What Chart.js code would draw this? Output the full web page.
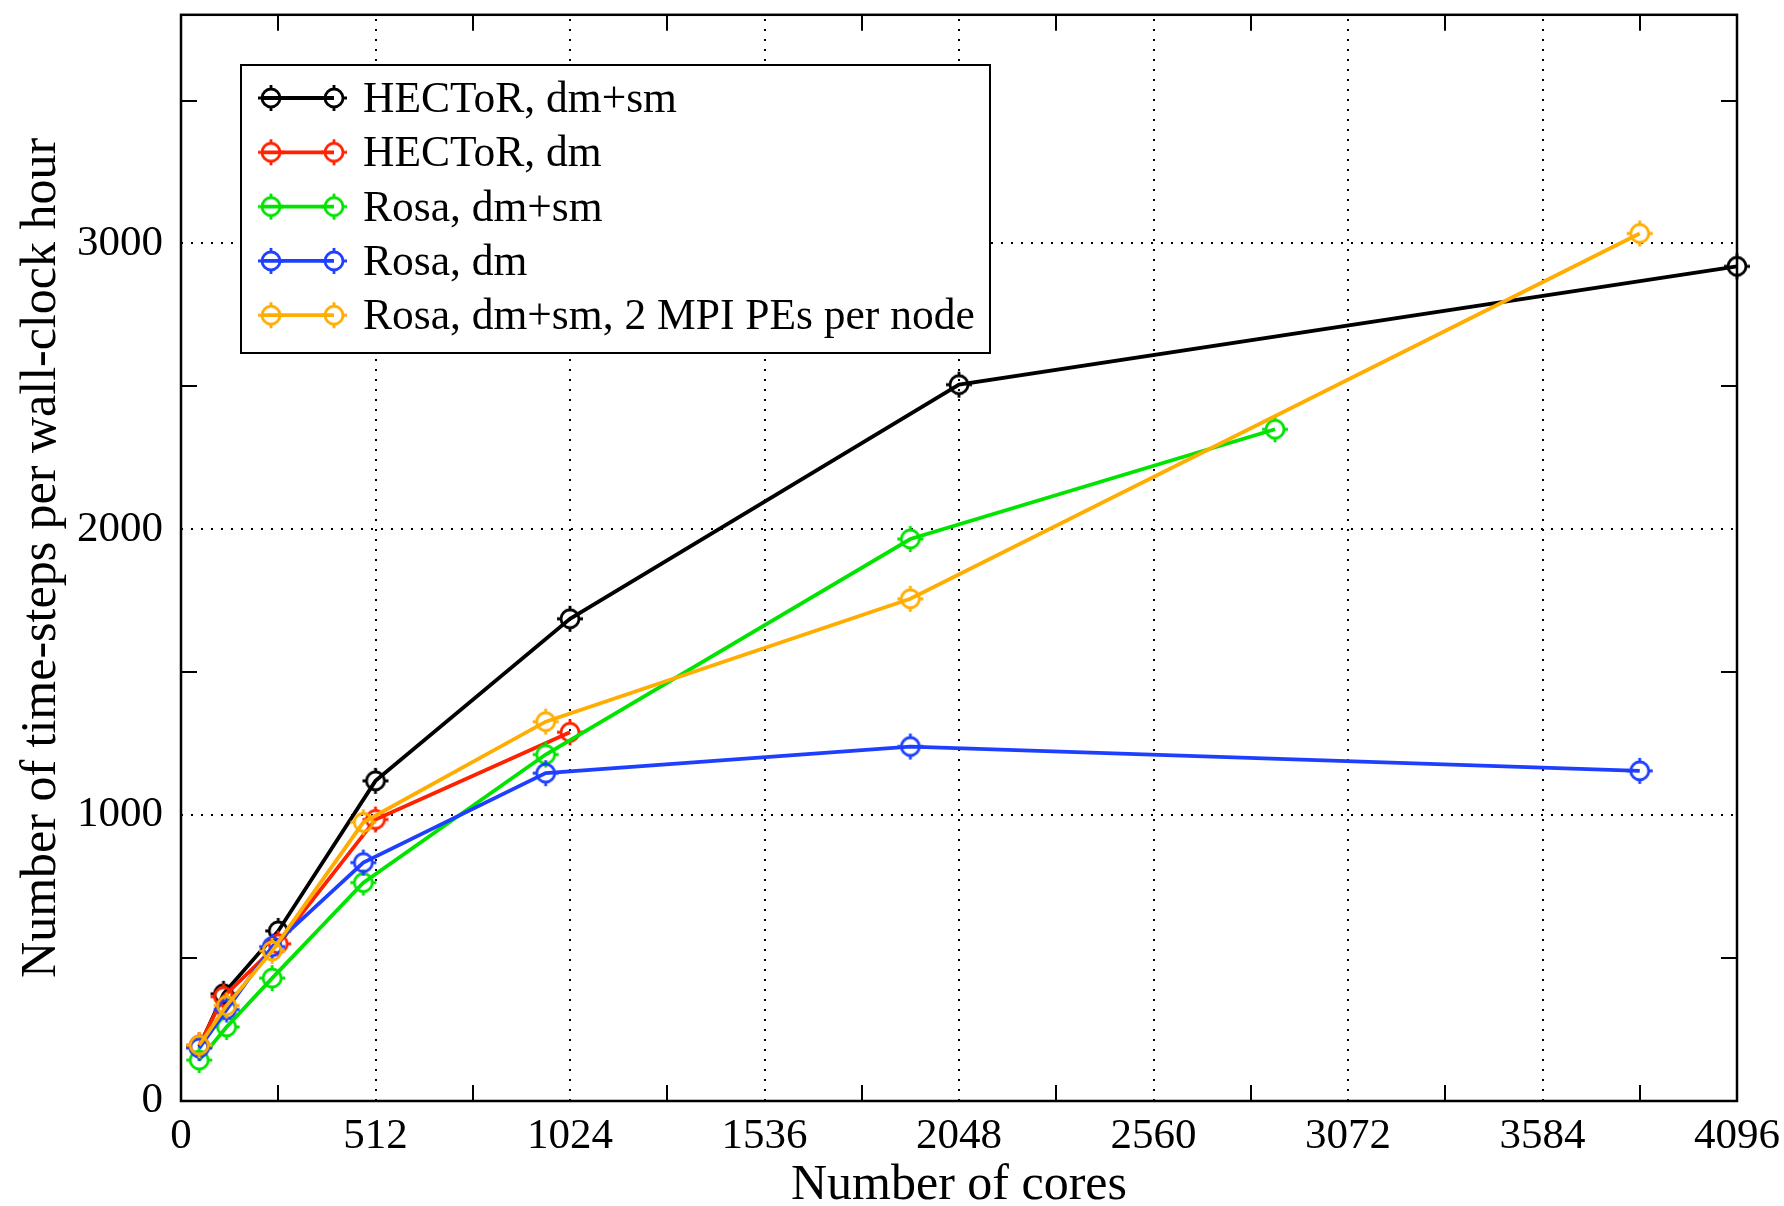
<!DOCTYPE html>
<html>
<head>
<meta charset="utf-8">
<script src="https://cdn.jsdelivr.net/npm/chart.js@4.4.1/dist/chart.umd.min.js"></script>
<style>
  html, body { margin: 0; padding: 0; background: #fff; }
  #wrap { width: 1784px; height: 1206px; }
</style>
</head>
<body>
<div id="wrap"><canvas id="scaling" width="1784" height="1206"></canvas></div>
<script>
// Values
const seriesLabels = [
    'HECToR, dm+sm',
    'HECToR, dm',
    'Rosa, dm+sm',
    'Rosa, dm',
    'Rosa, dm+sm, 2 MPI PEs per node'
];
const seriesColors = ['#000000', '#ff2200', '#00e400', '#1f3fff', '#ffad00'];

const hectorCores = [48, 112, 256, 512, 1024, 2048, 4096];
const hectorDmSm = [190, 375, 595, 1120, 1687, 2506, 2920];
const hectorDmCores = [48, 112, 256, 512, 1024];
const hectorDm = [195, 365, 550, 985, 1290];
const rosaDmSmCores = [48, 120, 240, 480, 960, 1920, 2880];
const rosaDmSm = [143, 259, 430, 764, 1212, 1966, 2350];
const rosaCores = [48, 120, 240, 480, 960, 1920, 3840];
const rosaDm = [185, 320, 540, 834, 1147, 1240, 1155];
const rosaDmSm2pe = [195, 334, 525, 975, 1327, 1757, 3035];

const xTicks = [0, 512, 1024, 1536, 2048, 2560, 3072, 3584, 4096];
const xMinorTicks = [256, 768, 1280, 1792, 2304, 2816, 3328, 3840];
const yTicks = [0, 1000, 2000, 3000];
const yMinorTicks = [500, 1500, 2500, 3500];

const seriesX = [hectorCores, hectorDmCores, rosaDmSmCores, rosaCores, rosaCores];
const seriesY = [hectorDmSm, hectorDm, rosaDmSm, rosaDm, rosaDmSm2pe];

const FONT = "'Liberation Serif', 'Times New Roman', serif";
Chart.defaults.font.family = FONT;
Chart.defaults.color = '#000';

// hollow circle marker with little spikes, like the original plot
function makeMarker(color) {
    const c = document.createElement('canvas');
    c.width = 32; c.height = 32;
    const g = c.getContext('2d');
    g.strokeStyle = color;
    g.lineWidth = 2.8;
    g.beginPath();
    g.arc(16, 16, 9, 0, Math.PI * 2);
    g.stroke();
    g.beginPath();
    g.moveTo(16, 3); g.lineTo(16, 7);
    g.moveTo(16, 25); g.lineTo(16, 29);
    g.moveTo(3, 16); g.lineTo(7, 16);
    g.moveTo(25, 16); g.lineTo(29, 16);
    g.stroke();
    return c;
}
const markers = seriesColors.map(makeMarker);

const datasets = seriesLabels.map((label, i) => ({
    label: label,
    data: seriesX[i].map((x, j) => ({ x: x, y: seriesY[i][j] })),
    borderColor: seriesColors[i],
    backgroundColor: seriesColors[i],
    borderWidth: 3.8,
    pointStyle: markers[i],
    pointRadius: 11,
    tension: 0,
    clip: false,
    order: 5 - i
}));

// dotted grid, inward ticks and the frame
const framePlugin = {
    id: 'frame',
    beforeDatasetsDraw(chart) {
        const { ctx, chartArea: a, scales: { x, y } } = chart;
        ctx.save();
        ctx.strokeStyle = '#000';
        ctx.lineWidth = 2;
        ctx.setLineDash([2, 8]);
        ctx.beginPath();
        xTicks.slice(1, -1).forEach(v => {
            const px = Math.round(x.getPixelForValue(v));
            ctx.moveTo(px, a.bottom); ctx.lineTo(px, a.top);
        });
        yTicks.slice(1).forEach(v => {
            const py = Math.round(y.getPixelForValue(v));
            ctx.moveTo(a.left, py); ctx.lineTo(a.right, py);
        });
        ctx.stroke();
        ctx.setLineDash([]);
        ctx.lineWidth = 2;
        ctx.beginPath();
        xMinorTicks.forEach(v => {
            const px = Math.round(x.getPixelForValue(v));
            ctx.moveTo(px, a.bottom); ctx.lineTo(px, a.bottom - 16);
            ctx.moveTo(px, a.top); ctx.lineTo(px, a.top + 16);
        });
        yMinorTicks.forEach(v => {
            const py = Math.round(y.getPixelForValue(v));
            ctx.moveTo(a.left, py); ctx.lineTo(a.left + 16, py);
            ctx.moveTo(a.right, py); ctx.lineTo(a.right - 16, py);
        });
        ctx.stroke();
        ctx.lineWidth = 2.5;
        ctx.strokeRect(a.left, a.top, a.right - a.left, a.bottom - a.top);
        ctx.restore();
    }
};

// boxed legend in the upper left of the plot
const legendPlugin = {
    id: 'boxLegend',
    afterDatasetsDraw(chart) {
        const ctx = chart.ctx;
        const box = { left: 241, top: 65, right: 990, bottom: 353 };
        ctx.save();
        ctx.fillStyle = '#fff';
        ctx.fillRect(box.left, box.top, box.right - box.left, box.bottom - box.top);
        ctx.strokeStyle = '#000';
        ctx.lineWidth = 2;
        ctx.strokeRect(box.left, box.top, box.right - box.left, box.bottom - box.top);
        chart.data.datasets.forEach((ds, i) => {
            const rowY = 98 + i * 54.3;
            ctx.strokeStyle = ds.borderColor;
            ctx.lineWidth = 3.8;
            ctx.beginPath();
            ctx.moveTo(262, rowY); ctx.lineTo(334, rowY);
            ctx.stroke();
            ctx.drawImage(ds.pointStyle, 271 - 16, rowY - 16);
            ctx.drawImage(ds.pointStyle, 334 - 16, rowY - 16);
            ctx.fillStyle = '#000';
            ctx.font = '43.5px ' + FONT;
            ctx.textBaseline = 'alphabetic';
            ctx.fillText(ds.label, 363, rowY + 14);
        });
        ctx.restore();
    }
};

new Chart(document.getElementById('scaling').getContext('2d'), {
    type: 'line',
    data: { datasets: datasets },
    options: {
        responsive: false,
        devicePixelRatio: 1,
        animation: false,
        layout: { padding: { top: 12, right: 47, bottom: 0, left: 0 } },
        plugins: {
            legend: { display: false },
            tooltip: { enabled: false }
        },
        scales: {
            x: {
                type: 'linear',
                min: 0,
                max: 4096,
                grid: { display: false, drawTicks: false },
                border: { display: false },
                afterBuildTicks(s) { s.ticks = xTicks.map(v => ({ value: v })); },
                ticks: {
                    autoSkip: false,
                    maxRotation: 0,
                    padding: 10,
                    font: { size: 43 },
                    color: '#000',
                    callback: v => String(v)
                },
                title: {
                    display: true,
                    text: 'Number of cores',
                    font: { size: 50, lineHeight: 1 },
                    padding: { top: 0, bottom: -5 },
                    color: '#000'
                },
                afterFit(s) {
                    s.height = 105;
                    s.paddingLeft = 0;
                    s.paddingRight = 0;
                }
            },
            y: {
                type: 'linear',
                min: 0,
                max: 3800,
                grid: { display: false, drawTicks: false },
                border: { display: false },
                afterBuildTicks(s) { s.ticks = yTicks.map(v => ({ value: v })); },
                ticks: {
                    autoSkip: false,
                    padding: 18,
                    font: { size: 43 },
                    color: '#000',
                    callback: v => String(v)
                },
                title: {
                    display: true,
                    text: 'Number of time-steps per wall-clock hour',
                    font: { size: 50, lineHeight: 1 },
                    padding: { top: 17, bottom: 0 },
                    color: '#000'
                },
                afterFit(s) {
                    s.width = 181;
                    s.paddingTop = 0;
                    s.paddingBottom = 0;
                }
            }
        }
    },
    plugins: [framePlugin, legendPlugin]
});
</script>
</body>
</html>
